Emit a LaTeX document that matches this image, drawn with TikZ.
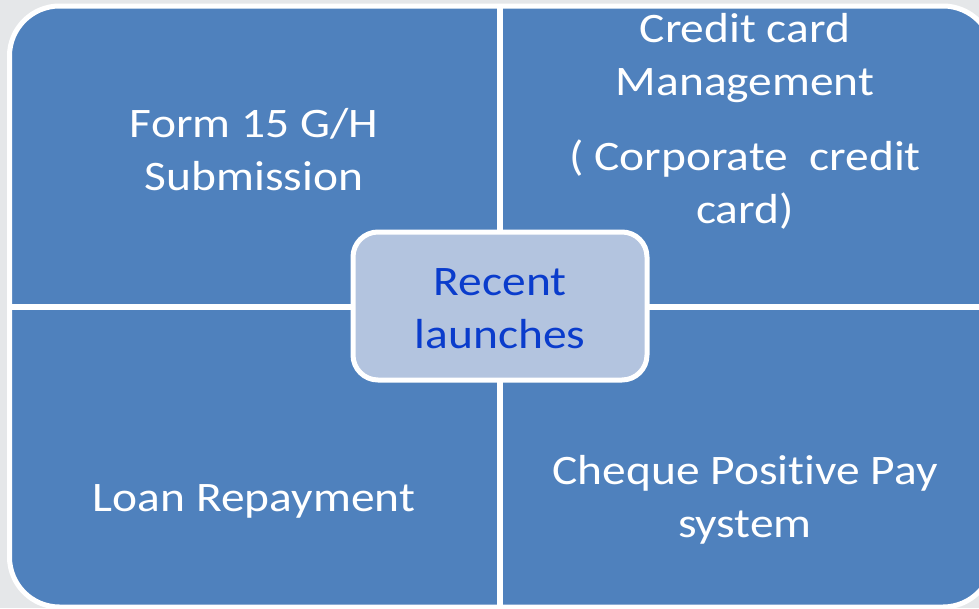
\documentclass[tikz,border=0pt]{standalone}
\usepackage{fontspec}
\setmainfont{Carlito}[FakeStretch=1.13,Ligatures=NoCommon]
\definecolor{quadblue}{HTML}{4F81BD}
\definecolor{hubfill}{HTML}{B3C4DF}
\definecolor{hubtext}{HTML}{0A3CCC}
\definecolor{pagegray}{HTML}{E5E7E9}

\begin{document}
\begin{tikzpicture}
			[x=1pt,y=-1pt,every node/.style={font=\fontsize{42}{53}\selectfont,align=center,text=white}]
			\useasboundingbox[fill=pagegray] (0,0) rectangle (979,608);
			\draw[fill=quadblue,draw=white,line width=5,rounded corners=50] (9.5,6) rectangle (993,607);
			
			\coordinate (top) at (500,6);
			\coordinate (bottom) at (500,607);
			\coordinate (left) at (9.5,307);
			\coordinate (right) at (993,307);
			\foreach \from/\to in {top/bottom,left/right}
			\draw[white,line width=6] (\from) -- (\to);
			
			\node (form) at (254,150) {Form 15 G/H\\Submission};
			\node (card) at (745,121) {Credit card\\Management\\[22pt]( Corporate\ \ credit\\card)};
			\node (loan) at (254,501) {Loan Repayment};
			\node (cheque) at (745,500) {Cheque Positive Pay\\system};
			
			\node[draw=white,line width=5,fill=hubfill,rounded corners=25,minimum width=294,minimum height=148] (recent) at (500,306) {};
			\node[text=hubtext] (launch) at (500,309) {Recent\\launches};
			\end{tikzpicture}
\end{document}
